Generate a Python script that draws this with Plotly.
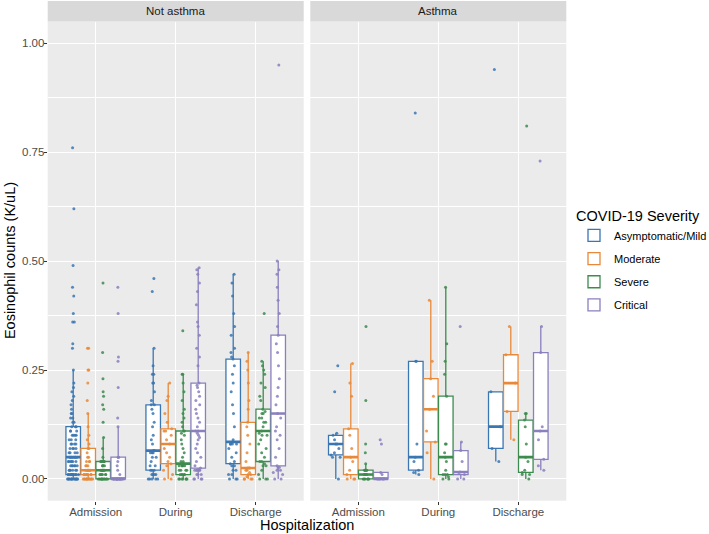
import numpy as np
import plotly.graph_objects as go

PANELS = ["Not asthma", "Asthma"]
PHASES = ["Admission", "During", "Discharge"]
SEVERITY = ["Asymptomatic/Mild", "Moderate", "Severe", "Critical"]
COLORS = ["#3A76B2", "#E8893A", "#3D8B4F", "#8A80BE"]
Y_TICKS = [0.0, 0.25, 0.5, 0.75, 1.0]

# ---- Not asthma (eosinophil counts, K/uL) ----
NA_ADM_MILD = ([0.00]*14 + [0.01]*13 + [0.02]*6 + [0.03]*6 + [0.04]*6 + [0.05]*7 + [0.06]*4 + [0.07]*4
               + [0.08]*4 + [0.09]*3 + [0.10]*4 + [0.11]*3 + [0.12]*3
               + [0.13, 0.13, 0.14, 0.14, 0.15, 0.15, 0.16, 0.17, 0.18, 0.19, 0.20, 0.21, 0.22, 0.25,
                  0.30, 0.31, 0.36, 0.36, 0.38, 0.42, 0.44, 0.49, 0.62, 0.76])
NA_ADM_MOD = ([0.00]*12 + [0.01]*8 + [0.02]*7 + [0.03]*3 + [0.04]*3 + [0.05]*2 + [0.06] + [0.07]*2
              + [0.08, 0.09, 0.10, 0.12, 0.15, 0.18, 0.22, 0.25, 0.25, 0.30, 0.30])
NA_ADM_SEV = ([0.00]*12 + [0.01]*6 + [0.02]*6 + [0.03]*4 + [0.04]*6
              + [0.05, 0.07, 0.095, 0.13, 0.16, 0.17, 0.19, 0.20, 0.23, 0.29, 0.45])
NA_ADM_CRIT = [0.00]*15 + [0.01, 0.02, 0.03, 0.04, 0.05, 0.05, 0.05, 0.12, 0.14, 0.21, 0.27, 0.28, 0.38, 0.44]

NA_DUR_MILD = ([0.00]*5 + [0.01]*4 + [0.02]*3 + [0.03]*2 + [0.04] + [0.05]*2 + [0.06]*3 + [0.065]*2
               + [0.08, 0.09, 0.10, 0.12, 0.13, 0.15, 0.16, 0.17, 0.17, 0.18, 0.20, 0.22, 0.22, 0.24, 0.24,
                  0.26, 0.30, 0.43, 0.46])
NA_DUR_MOD = [0.00, 0.00, 0.01, 0.02, 0.03, 0.035, 0.04, 0.05, 0.06, 0.07, 0.08, 0.09, 0.10, 0.11, 0.11,
              0.115, 0.13, 0.15, 0.18, 0.19, 0.22]
NA_DUR_SEV = ([0.00]*7 + [0.01]*5 + [0.02]*4 + [0.03]*5 + [0.035]*2 + [0.04]*2
              + [0.05, 0.06, 0.07, 0.08, 0.09, 0.10, 0.105, 0.11, 0.11, 0.12, 0.13, 0.14, 0.15, 0.16, 0.18,
                 0.20, 0.22, 0.24, 0.24, 0.34])
NA_DUR_CRIT = ([0.00]*4 + [0.01]*3 + [0.02]*5
               + [0.025, 0.03, 0.04, 0.05, 0.06, 0.07, 0.08, 0.09, 0.095, 0.10, 0.105, 0.11, 0.11, 0.12, 0.13,
                  0.14, 0.15, 0.16, 0.17, 0.18, 0.19, 0.20, 0.21, 0.215, 0.22, 0.26, 0.28, 0.30, 0.33, 0.35,
                  0.36, 0.40, 0.43, 0.45, 0.47, 0.48, 0.485])

NA_DIS_MILD = ([0.00]*3 + [0.01]*2 + [0.02]*2 + [0.03]*2 + [0.035, 0.04, 0.05, 0.06, 0.07] + [0.08]*4
               + [0.085, 0.09, 0.12, 0.15, 0.17, 0.20, 0.22, 0.24, 0.26, 0.275, 0.28, 0.29, 0.30, 0.33, 0.35,
                  0.38, 0.42, 0.45, 0.47])
NA_DIS_MOD = [0.00]*4 + [0.005, 0.01, 0.01, 0.015, 0.02, 0.02, 0.025, 0.025, 0.025, 0.04, 0.06, 0.08, 0.10,
                         0.12, 0.13, 0.16, 0.18, 0.22, 0.25, 0.27, 0.29]
NA_DIS_SEV = [0.00]*3 + [0.01, 0.02, 0.03, 0.03, 0.035, 0.04, 0.04, 0.05, 0.06, 0.07, 0.08, 0.09, 0.10, 0.10,
                         0.105, 0.11, 0.12, 0.13, 0.13, 0.14, 0.14, 0.15, 0.15, 0.155, 0.16, 0.18, 0.19, 0.21,
                         0.22, 0.24, 0.25, 0.26, 0.27, 0.38]
NA_DIS_CRIT = [0.00, 0.00, 0.01, 0.015, 0.02, 0.02, 0.025, 0.027, 0.03, 0.05, 0.07, 0.09, 0.10, 0.11, 0.12,
               0.14, 0.15, 0.17, 0.19, 0.21, 0.23, 0.26, 0.29, 0.31, 0.33, 0.35, 0.38, 0.41, 0.44, 0.47,
               0.48, 0.50, 0.95]

# ---- Asthma ----
A_ADM_MILD = [0.00, 0.05, 0.05, 0.055, 0.06, 0.07, 0.08, 0.08, 0.09, 0.10, 0.105, 0.20, 0.26]
A_ADM_MOD = [0.00, 0.00, 0.00, 0.01, 0.02, 0.04, 0.05, 0.07, 0.10, 0.115, 0.19, 0.22, 0.265]
A_ADM_SEV = [0.00]*6 + [0.01]*5 + [0.02]*5 + [0.035, 0.06, 0.08, 0.18, 0.35]
A_ADM_CRIT = [0.00]*5 + [0.01, 0.015, 0.08, 0.09]

A_DUR_MILD = [0.01, 0.015, 0.02, 0.04, 0.05, 0.08, 0.27, 0.27, 0.84]
A_DUR_MOD = [0.00, 0.06, 0.085, 0.11, 0.16, 0.19, 0.23, 0.27, 0.41]
A_DUR_SEV = [0.00, 0.00, 0.005, 0.01, 0.01, 0.01, 0.02, 0.04, 0.05, 0.06, 0.08, 0.08, 0.19, 0.24, 0.27,
             0.31, 0.44]
A_DUR_CRIT = [0.00, 0.00, 0.01, 0.015, 0.016, 0.04, 0.065, 0.085, 0.35]

A_DIS_MILD = [0.04, 0.07, 0.12, 0.20, 0.94]
A_DIS_MOD = [0.09, 0.155, 0.22, 0.285, 0.35]
A_DIS_SEV = [0.00, 0.01, 0.01, 0.015, 0.02, 0.04, 0.05, 0.08, 0.12, 0.135, 0.15, 0.15, 0.81]
A_DIS_CRIT = [0.02, 0.03, 0.045, 0.09, 0.11, 0.12, 0.29, 0.35, 0.73]

DATA = {
    "Not asthma": {
        "Admission": [NA_ADM_MILD, NA_ADM_MOD, NA_ADM_SEV, NA_ADM_CRIT],
        "During": [NA_DUR_MILD, NA_DUR_MOD, NA_DUR_SEV, NA_DUR_CRIT],
        "Discharge": [NA_DIS_MILD, NA_DIS_MOD, NA_DIS_SEV, NA_DIS_CRIT],
    },
    "Asthma": {
        "Admission": [A_ADM_MILD, A_ADM_MOD, A_ADM_SEV, A_ADM_CRIT],
        "During": [A_DUR_MILD, A_DUR_MOD, A_DUR_SEV, A_DUR_CRIT],
        "Discharge": [A_DIS_MILD, A_DIS_MOD, A_DIS_SEV, A_DIS_CRIT],
    },
}

W, H = 709, 534
FONT = "Liberation Sans, Arial, sans-serif"
BOX_W = 0.75 / len(SEVERITY)

# panel geometry in pixels
PX = [(47.7, 303.7), (310.3, 566.3)]
P_TOP, P_BOT = 21.5, 500.7
STRIP_TOP = 1.0

fig = go.Figure()
for p_i, panel in enumerate(PANELS):
    xa = "x" if p_i == 0 else "x2"
    ya = "y" if p_i == 0 else "y2"
    for c_i, phase in enumerate(PHASES):
        for g_i, sev in enumerate(SEVERITY):
            vals = DATA[panel][phase][g_i]
            center = (c_i + 1) + (g_i - 1.5) * BOX_W
            fig.add_trace(go.Box(
                y=vals, x0=center, width=BOX_W * 0.97, xaxis=xa, yaxis=ya,
                name=sev, legendgroup=sev, showlegend=(p_i == 0 and c_i == 0),
                line=dict(color=COLORS[g_i], width=1.3), fillcolor="white",
                marker=dict(color=COLORS[g_i], size=3, opacity=0.85),
                boxpoints="all", jitter=0.8, pointpos=0, whiskerwidth=0,
                quartilemethod="inclusive", hoverinfo="skip",
            ))
            med = float(np.median(vals))
            fig.add_trace(go.Scatter(
                x=[center - BOX_W * 0.485, center + BOX_W * 0.485], y=[med, med],
                mode="lines", line=dict(color=COLORS[g_i], width=2.6),
                xaxis=xa, yaxis=ya, showlegend=False, hoverinfo="skip",
            ))

def xdom(i):
    return [PX[i][0] / W, PX[i][1] / W]

ydom = [1 - P_BOT / H, 1 - P_TOP / H]

common_x = dict(type="linear", range=[0.4, 3.6], tickmode="array", tickvals=[1, 2, 3], ticktext=PHASES,
                showgrid=True, gridcolor="white", gridwidth=1.1, zeroline=False, showline=False,
                ticks="outside", ticklen=3, tickwidth=1, tickcolor="#333333", ticklabelstandoff=-3,
                tickfont=dict(family=FONT, size=11.5, color="#4D4D4D"))
common_y = dict(range=[-0.05, 1.05], tickmode="array", tickvals=Y_TICKS,
                ticktext=[f"{v:.2f}" for v in Y_TICKS],
                showgrid=True, gridcolor="white", gridwidth=1.1, zeroline=False, showline=False,
                minor=dict(tickmode="linear", tick0=0, dtick=0.125, showgrid=True, gridcolor="white",
                           gridwidth=0.55, ticks=""),
                domain=ydom)

fig.update_layout(
    width=W, height=H, margin=dict(l=0, r=0, t=0, b=0, autoexpand=False),
    paper_bgcolor="white", plot_bgcolor="#EBEBEB",
    showlegend=True,
    xaxis=dict(common_x, domain=xdom(0), anchor="y"),
    xaxis2=dict(common_x, domain=xdom(1), anchor="y2"),
    yaxis=dict(common_y, anchor="x", ticks="outside", ticklen=3, tickwidth=1, tickcolor="#333333",
               ticklabelstandoff=-3, tickfont=dict(family=FONT, size=11.5, color="#4D4D4D")),
    yaxis2=dict(common_y, anchor="x2", matches="y", showticklabels=False, ticks=""),
    legend=dict(
        title=dict(text="COVID-19 Severity", font=dict(family=FONT, size=14.5, color="black")),
        font=dict(family=FONT, size=11, color="black"),
        x=574 / W, xanchor="left", y=1 - 202 / H, yanchor="top",
        bgcolor="rgba(0,0,0,0)", tracegroupgap=4.2, itemwidth=30,
    ),
    font=dict(family=FONT),
)

shapes = []
annotations = []
for p_i, panel in enumerate(PANELS):
    x0, x1 = xdom(p_i)
    shapes.append(dict(type="rect", xref="paper", yref="paper", x0=x0, x1=x1,
                       y0=1 - P_TOP / H, y1=1 - STRIP_TOP / H,
                       fillcolor="#D9D9D9", line=dict(width=0), layer="below"))
    annotations.append(dict(text=panel, xref="paper", yref="paper", x=(x0 + x1) / 2,
                            y=1 - (P_TOP + STRIP_TOP) / 2 / H, showarrow=False,
                            xanchor="center", yanchor="middle",
                            font=dict(family=FONT, size=11.5, color="#1A1A1A")))

annotations.append(dict(text="Hospitalization", xref="paper", yref="paper",
                        x=(PX[0][0] + PX[1][1]) / 2 / W, y=1 - 525 / H, showarrow=False,
                        xanchor="center", yanchor="middle",
                        font=dict(family=FONT, size=14.5, color="black")))
annotations.append(dict(text="Eosinophil counts (K/uL)", xref="paper", yref="paper",
                        x=10 / W, y=1 - (P_TOP + P_BOT) / 2 / H, showarrow=False, textangle=-90,
                        xanchor="center", yanchor="middle",
                        font=dict(family=FONT, size=14.5, color="black")))

fig.update_layout(shapes=shapes, annotations=annotations)
fig.write_html("out.html", config={"displayModeBar": False},
               post_script="document.body.style.margin='0px';")
